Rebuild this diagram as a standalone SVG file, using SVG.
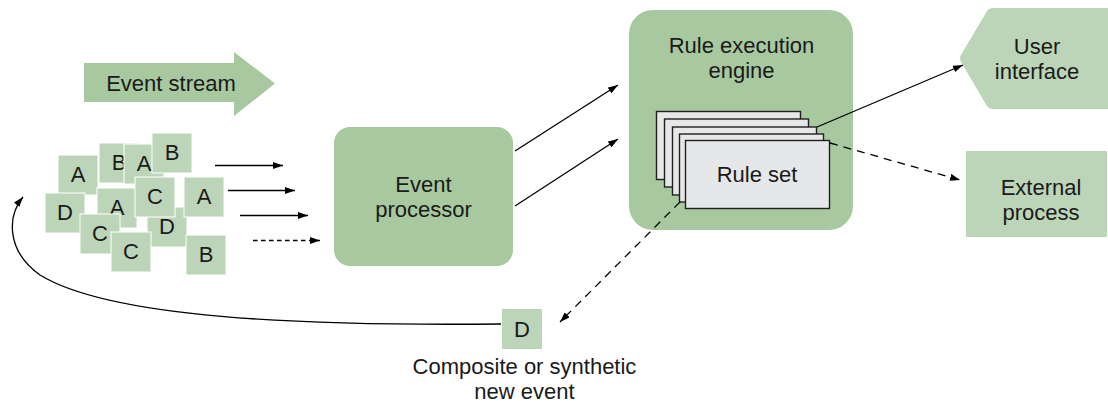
<svg xmlns="http://www.w3.org/2000/svg" width="1108" height="404" viewBox="0 0 1108 404">
<style>
text{font-family:"Liberation Sans",Arial,sans-serif;font-size:22px;fill:#1a1a1a;text-anchor:middle}
.node{fill:#a8c89f}
.light{fill:#bcd5b8}
.ev rect{fill:#bcd5b8;stroke:#ffffff;stroke-width:1}
.card{fill:#e6e7e9;stroke:#231f20;stroke-width:1.4}
.ln{fill:none;stroke:#000;stroke-width:1.3}
.dash{stroke-dasharray:8 6}
.sdash{stroke-dasharray:4.5 3.5}
</style>
<defs>
<marker id="ah" markerUnits="userSpaceOnUse" markerWidth="10" markerHeight="7" refX="10" refY="3.5" orient="auto">
<path d="M0,0 L10,3.5 L0,7 z" fill="#000"/>
</marker>
</defs>

<g id="event-stream">
<polygon class="node" points="84,63 234,63 234,52 275,83.5 234,116 234,102 84,102"/>
<text x="171" y="90.5">Event stream</text>
</g>

<g id="events" class="ev">
<g><rect x="58" y="155" width="40" height="40"/><text x="78" y="182">A</text></g>
<g><rect x="99" y="143" width="40" height="40"/><text x="119" y="170">B</text></g>
<g><rect x="124" y="144" width="40" height="40"/><text x="144" y="171">A</text></g>
<g><rect x="152" y="133" width="40" height="40"/><text x="172" y="160">B</text></g>
<g><rect x="45" y="193" width="40" height="40"/><text x="65" y="220">D</text></g>
<g><rect x="97" y="188" width="40" height="40"/><text x="117" y="215">A</text></g>
<g><rect x="147" y="207" width="40" height="40"/><text x="167" y="234">D</text></g>
<g><rect x="135" y="177" width="40" height="40"/><text x="155" y="204">C</text></g>
<g><rect x="184" y="177" width="40" height="40"/><text x="204" y="204">A</text></g>
<g><rect x="80" y="214" width="40" height="40"/><text x="100" y="241">C</text></g>
<g><rect x="111" y="232" width="40" height="40"/><text x="131" y="259">C</text></g>
<g><rect x="186" y="235" width="40" height="40"/><text x="206" y="262">B</text></g>
</g>

<g id="event-processor">
<rect class="node" x="334" y="127" width="179" height="139" rx="16"/>
<text x="423.5" y="191.5">Event</text>
<text x="423.5" y="216.5">processor</text>
</g>

<g id="rule-engine">
<rect class="node" x="629" y="10" width="224" height="220" rx="24"/>
<text x="741.5" y="53">Rule execution</text>
<text x="741.5" y="77.5">engine</text>
</g>

<g id="rule-set">
<rect class="card" x="656.5" y="111.5" width="144" height="68"/>
<rect class="card" x="664.5" y="119" width="144" height="68"/>
<rect class="card" x="672.5" y="127" width="144" height="68"/>
<rect class="card" x="679.5" y="134" width="144" height="68"/>
<rect class="card" x="685.5" y="140.5" width="144" height="68"/>
<text x="757" y="181.5">Rule set</text>
</g>

<g id="user-interface">
<path class="light" d="M993,8 L1108,8 L1108,109 L993,109 Q989,109 987,106 L961,62 Q959,58.5 961,55 L987,11 Q989,8 993,8 z"/>
<text x="1037" y="54">User</text>
<text x="1037" y="78.5">interface</text>
</g>

<g id="external-process">
<rect class="light" x="966" y="151" width="141" height="86"/>
<text x="1041" y="195">External</text>
<text x="1041" y="219.5">process</text>
</g>

<g id="new-event">
<rect class="light" x="502" y="309" width="40" height="40"/>
<text x="522" y="337">D</text>
<text x="524.5" y="374">Composite or synthetic</text>
<text x="524.5" y="398.5">new event</text>
</g>

<g id="connectors">
<line class="ln" x1="215" y1="165.5" x2="283" y2="165.5" marker-end="url(#ah)"/>
<line class="ln" x1="228" y1="190.5" x2="295" y2="190.5" marker-end="url(#ah)"/>
<line class="ln" x1="240" y1="215.5" x2="308" y2="215.5" marker-end="url(#ah)"/>
<line class="ln sdash" x1="253" y1="240.5" x2="320" y2="240.5" marker-end="url(#ah)"/>
<line class="ln" x1="515" y1="151" x2="618" y2="85" marker-end="url(#ah)"/>
<line class="ln" x1="515" y1="206" x2="618" y2="139" marker-end="url(#ah)"/>
<line class="ln" x1="817" y1="127" x2="963" y2="65" marker-end="url(#ah)"/>
<line class="ln dash" x1="830" y1="143" x2="960" y2="180" marker-end="url(#ah)"/>
<line class="ln dash" x1="680" y1="202" x2="560" y2="322" marker-end="url(#ah)"/>
<path class="ln" d="M501,324 C300,326 110,318 40,275 C5,250 8,215 23,197" marker-end="url(#ah)"/>
</g>
</svg>
